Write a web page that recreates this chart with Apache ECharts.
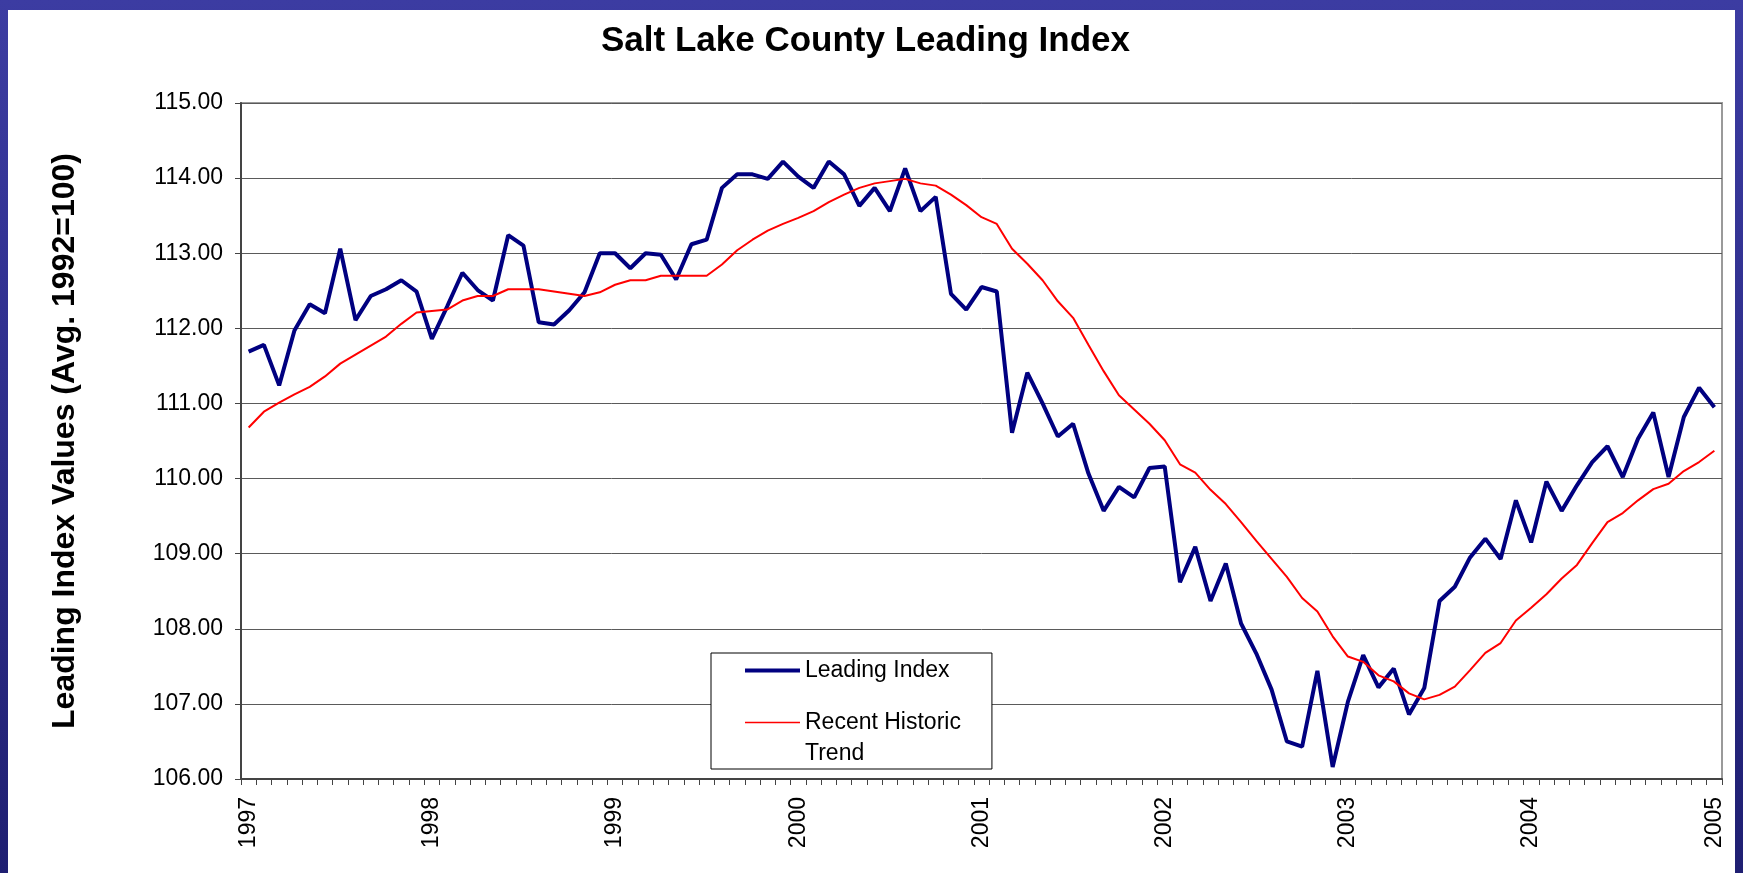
<!DOCTYPE html>
<html>
<head>
<meta charset="utf-8">
<script src="https://cdn.jsdelivr.net/npm/echarts@6/dist/echarts.min.js"></script>
<style>
  html, body { margin: 0; padding: 0; }
  body { width: 1743px; height: 873px; background: linear-gradient(#3c3ca2, #1f1f72); overflow: hidden; position: relative; }
  #chart { position: absolute; left: 8px; top: 10px; width: 1727px; height: 863px; background: #fff; }
</style>
</head>
<body>
<div id="chart"></div>
<script>
// monthly, Jan 1997 .. Jan 2005
var years = ['1997', '1998', '1999', '2000', '2001', '2002', '2003', '2004', '2005'];
var months = ['01', '02', '03', '04', '05', '06', '07', '08', '09', '10', '11', '12'];

var leadingIndex = [
  111.69, 111.78, 111.24, 111.97, 112.32, 112.20, 113.06, 112.11, 112.43, 112.52, 112.64, 112.49,
  111.86, 112.29, 112.74, 112.51, 112.37, 113.24, 113.10, 112.08, 112.05, 112.24, 112.48, 113.00,
  113.00, 112.80, 113.00, 112.98, 112.65, 113.12, 113.18, 113.87, 114.05, 114.05, 113.99, 114.22,
  114.02, 113.87, 114.22, 114.05, 113.63, 113.87, 113.56, 114.13, 113.56, 113.75, 112.46, 112.25,
  112.55, 112.49, 110.61, 111.41, 111.00, 110.56, 110.73, 110.07, 109.57, 109.89, 109.75, 110.14,
  110.16, 108.62, 109.09, 108.37, 108.87, 108.07, 107.67, 107.19, 106.50, 106.43, 107.44, 106.16,
  107.03, 107.65, 107.22, 107.47, 106.86, 107.21, 108.37, 108.56, 108.95, 109.20, 108.93, 109.71,
  109.15, 109.96, 109.57, 109.91, 110.22, 110.43, 110.02, 110.53, 110.88, 110.02, 110.82, 111.21,
  110.95
];

var historicTrend = [
  110.68, 110.89, 111.01, 111.12, 111.22, 111.36, 111.53, 111.65, 111.77, 111.89, 112.06, 112.21,
  112.23, 112.25, 112.37, 112.43, 112.43, 112.52, 112.52, 112.52, 112.49, 112.46, 112.43, 112.48,
  112.58, 112.64, 112.64, 112.70, 112.70, 112.70, 112.70, 112.85, 113.04, 113.18, 113.30, 113.39,
  113.47, 113.56, 113.68, 113.78, 113.87, 113.93, 113.96, 113.99, 113.93, 113.90, 113.78, 113.64,
  113.48, 113.39, 113.06, 112.86, 112.64, 112.36, 112.14, 111.78, 111.43, 111.11, 110.92, 110.73,
  110.51, 110.19, 110.08, 109.85, 109.66, 109.42, 109.17, 108.93, 108.69, 108.41, 108.23, 107.90,
  107.63, 107.56, 107.38, 107.30, 107.14, 107.06, 107.12, 107.23, 107.45, 107.68, 107.81, 108.11,
  108.28, 108.46, 108.67, 108.85, 109.14, 109.42, 109.54, 109.71, 109.86, 109.93, 110.10, 110.22,
  110.37
];

var categories = [];
years.forEach(function (y) {
  months.forEach(function (m) {
    if (categories.length < leadingIndex.length) categories.push(y + '-' + m);
  });
});

var font = 'Liberation Sans, Arial, sans-serif';
var myChart = echarts.init(document.getElementById('chart'));

myChart.setOption({
  backgroundColor: '#fff',
  animation: false,
  title: {
    text: 'Salt Lake County Leading Index',
    left: 593,
    top: 14,
    padding: 0,
    textStyle: { fontFamily: font, fontSize: 35, fontWeight: 'bold', color: '#000' }
  },
  legend: {
    orient: 'vertical',
    left: 703,
    top: 643,
    padding: [2, 31, 0, 34],
    itemGap: -10,
    itemWidth: 55,
    itemHeight: 14,
    backgroundColor: '#fff',
    borderColor: '#000',
    borderWidth: 1,
    borderRadius: 0,
    textStyle: { fontFamily: font, fontSize: 23, color: '#000', lineHeight: 31 },
    formatter: function (name) {
      return name === 'Recent Historic Trend' ? '\nRecent Historic\nTrend' : name;
    },
    data: [
      { name: 'Leading Index', icon: 'path://M0 0H55V4H0Z' },
      { name: 'Recent Historic Trend', icon: 'path://M0 0H55V1.6H0Z' }
    ]
  },
  grid: {
    left: 233,
    right: 13,
    top: 93,
    bottom: 94,
    show: true,
    borderColor: '#9a9a9a',
    borderWidth: 2
  },
  xAxis: {
    type: 'category',
    data: categories,
    boundaryGap: true,
    axisLine: { lineStyle: { color: '#444', width: 2 } },
    axisTick: { show: true, interval: 0, length: 6, lineStyle: { color: '#444' } },
    axisLabel: {
      interval: 11,
      rotate: 90,
      margin: 18,
      fontFamily: font,
      fontSize: 23,
      color: '#000',
      formatter: function (v) { return v.slice(0, 4); }
    },
    splitLine: { show: false }
  },
  yAxis: {
    type: 'value',
    min: 106,
    max: 115,
    interval: 1,
    name: 'Leading Index Values (Avg. 1992=100)',
    nameLocation: 'middle',
    nameRotate: 90,
    nameGap: 160,
    nameTextStyle: { fontFamily: font, fontSize: 32, fontWeight: 'bold', color: '#000' },
    axisLine: { show: true, lineStyle: { color: '#444', width: 2 } },
    axisTick: { show: true, length: 6, lineStyle: { color: '#444' } },
    axisLabel: {
      margin: 18,
      fontFamily: font,
      fontSize: 23,
      color: '#000',
      formatter: function (v) { return v.toFixed(2); }
    },
    splitLine: { show: true, lineStyle: { color: '#5a5a5a', width: 1 } }
  },
  series: [
    {
      name: 'Leading Index',
      type: 'line',
      data: leadingIndex,
      symbol: 'none',
      lineStyle: { color: '#000080', width: 4 },
      itemStyle: { color: '#000080' }
    },
    {
      name: 'Recent Historic Trend',
      type: 'line',
      data: historicTrend,
      symbol: 'none',
      lineStyle: { color: '#ff0000', width: 2 },
      itemStyle: { color: '#ff0000' }
    }
  ]
});
</script>
</body>
</html>
